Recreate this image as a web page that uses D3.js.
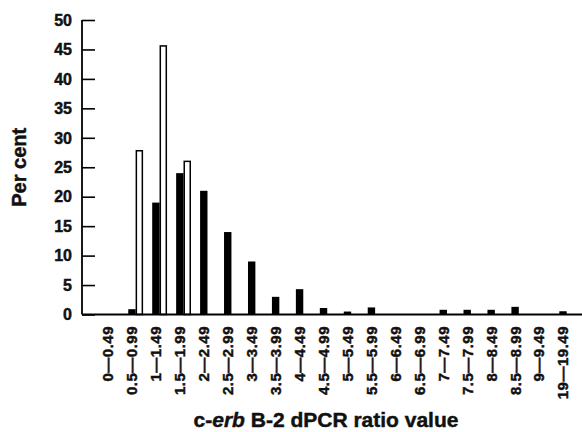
<!DOCTYPE html>
<html>
<head>
<meta charset="utf-8">
<script src="https://cdn.jsdelivr.net/npm/d3@7"></script>
<style>
  html, body { margin: 0; padding: 0; background: #fff; }
  svg { display: block; font-family: "Liberation Sans", Arial, sans-serif; font-weight: bold; }
</style>
</head>
<body>
<div id="chart"></div>
<script>
// c-erb B-2 dPCR ratio value distribution
const categories = ["0\u20140.49", "0.5\u20140.99", "1\u20141.49", "1.5\u20141.99", "2\u20142.49",
    "2.5\u20142.99", "3\u20143.49", "3.5\u20143.99", "4\u20144.49", "4.5\u20144.99", "5\u20145.49",
    "5.5\u20145.99", "6\u20146.49", "6.5\u20146.99", "7\u20147.49", "7.5\u20147.99", "8\u20148.49",
    "8.5\u20148.99", "9\u20149.49", "19\u201419.49"];
const blackSeries = [0, 0.9, 19, 24, 21, 14, 9, 3, 4.3, 1.1, 0.5, 1.2, 0, 0, 0.8, 0.8, 0.8, 1.3, 0, 0.55];
const whiteSeries = [0, 27.8, 45.6, 26, 0, 0, 0, 0, 0, 0, 0, 0, 0, 0, 0, 0, 0, 0, 0, 0];
const yTicks = [0, 5, 10, 15, 20, 25, 30, 35, 40, 45, 50];

(() => {
    const W = 582, H = 432;
    const svg = d3.select("#chart").append("svg").attr("width", W).attr("height", H);

    const x = d3.scalePoint().domain(categories).range([108, 563]);
    const y = d3.scaleLinear().domain([0, 50]).range([314.5, 20]);
    const bw = 7.4;

    const rows = categories.map((c, i) => ({ cat: c, b: blackSeries[i], w: whiteSeries[i] }));

    // black bars, centred on category
    svg.append("g").selectAll("rect")
        .data(rows.filter(d => d.b > 0))
        .join("rect")
        .attr("x", d => x(d.cat) - bw / 2)
        .attr("y", d => y(d.b))
        .attr("width", bw)
        .attr("height", d => y(0) - y(d.b))
        .attr("fill", "#000");

    // white bars, just right of the black ones
    svg.append("g").selectAll("rect")
        .data(rows.filter(d => d.w > 0))
        .join("rect")
        .attr("x", d => x(d.cat) + bw / 2 + 0.7)
        .attr("y", d => y(d.w))
        .attr("width", bw - 1.4)
        .attr("height", d => y(0) - y(d.w))
        .attr("fill", "#fff")
        .attr("stroke", "#000")
        .attr("stroke-width", 1.5);

    // y axis with inward ticks
    const yAxis = svg.append("g").attr("transform", "translate(82,0)")
        .call(d3.axisRight(y).tickValues(yTicks).tickSize(13).tickFormat(""));
    yAxis.select(".domain").remove();
    yAxis.selectAll(".tick line").attr("stroke", "#000").attr("stroke-width", 1.6);
    svg.append("line").attr("x1", 82).attr("x2", 82).attr("y1", y(50)).attr("y2", y(0))
        .attr("stroke", "#000").attr("stroke-width", 1.8);

    const heavy = sel => sel.attr("fill", "#111").attr("stroke", "#111").attr("stroke-width", 0.45);

    svg.append("g").selectAll("text")
        .data(yTicks)
        .join("text")
        .attr("x", 72)
        .attr("y", d => y(d))
        .attr("dy", "0.36em")
        .attr("text-anchor", "end")
        .attr("font-size", 16)
        .call(heavy)
        .text(d => d);

    // x axis baseline
    svg.append("line").attr("x1", 82).attr("x2", W).attr("y1", y(0)).attr("y2", y(0))
        .attr("stroke", "#000").attr("stroke-width", 2);

    // rotated category labels
    svg.append("g").selectAll("text")
        .data(categories)
        .join("text")
        .attr("transform", d => `translate(${x(d)},326) rotate(-90)`)
        .attr("dy", "0.36em")
        .attr("text-anchor", "end")
        .attr("font-size", 15)
        .attr("letter-spacing", 0.5)
        .call(heavy)
        .text(d => d);

    // axis titles
    svg.append("text")
        .attr("transform", `translate(19,${(y(0) + y(50)) / 2}) rotate(-90)`)
        .attr("dy", "0.36em")
        .attr("text-anchor", "middle")
        .attr("font-size", 20)
        .call(heavy)
        .text("Per cent");

    const t = svg.append("text")
        .attr("x", 326).attr("y", 427)
        .attr("text-anchor", "middle")
        .attr("font-size", 21)
        .call(heavy);
    t.append("tspan").text("c-");
    t.append("tspan").attr("font-style", "italic").text("erb");
    t.append("tspan").text(" B-2 dPCR ratio value");
})();
</script>
</body>
</html>
